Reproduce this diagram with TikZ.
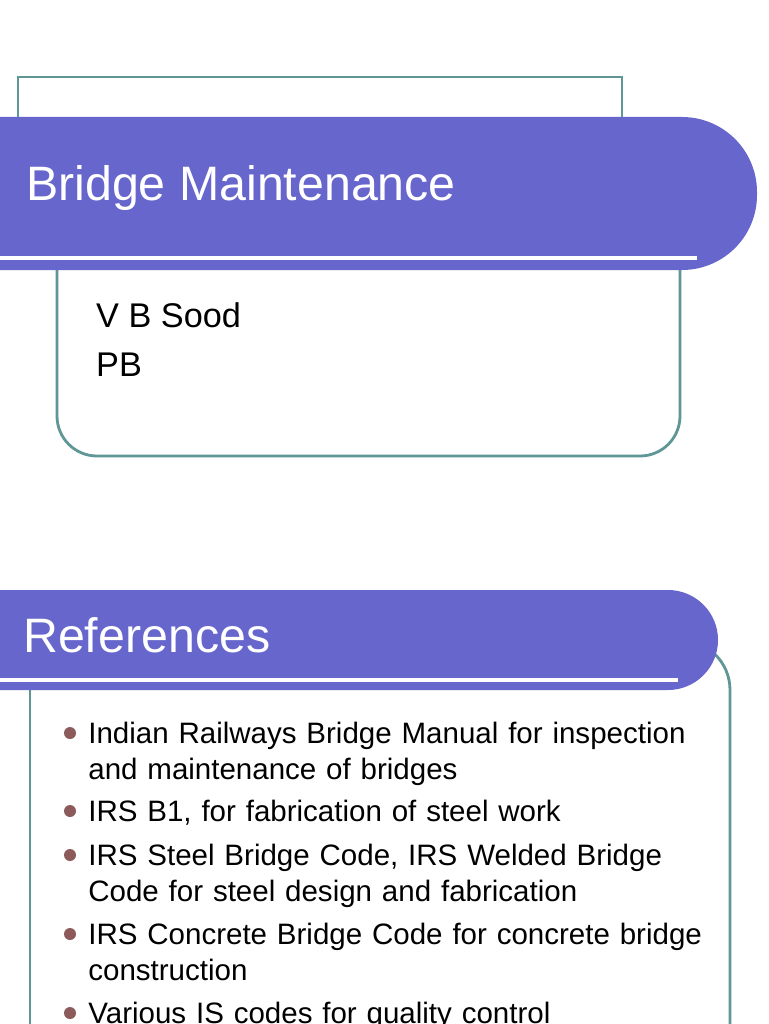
\documentclass[tikz,border=0pt]{standalone}
\usepackage{fontspec}
\setmainfont{Liberation Sans}
\definecolor{bar_c}{RGB}{102,102,204}
\definecolor{frame_c}{RGB}{96,150,150}
\definecolor{dot_c}{RGB}{140,90,90}
\begin{document}
\begin{tikzpicture}[
			x=0.02cm, y=-0.02cm,
			frame/.style = {draw=frame_c, line width=1.6pt},
			bar/.style = {fill=bar_c},
			title/.style = {anchor=west, text=white, font=\fontsize{27.5}{32}\selectfont},
			body/.style = {anchor=west, font=\fontsize{19.5}{23}\selectfont},
			item/.style = {anchor=north west, font=\fontsize{16.8}{20.4}\selectfont, text width=12.5cm, align=left, inner sep=0pt},
			]
			\useasboundingbox (0,0) rectangle (768,1024);
			% first slide
			\draw[frame] (18,117) -- (18,77) -- (622,77) -- (622,117);
			\draw[frame, rounded corners=0.8cm] (57,260) -- (57,456) -- (680,456) -- (680,260);
			\fill[bar, rounded corners=1.5cm] (-200,117) -- (757,117) -- (757,270) -- (-200,270) -- cycle;
			\draw[white, line width=2pt] (0,258) -- (697,258);
			\node[title] (t1) at (20,188) {Bridge Maintenance};
			\node[body] (n1) at (90,315) {V B Sood};
			\node[body] (n2) at (90,365) {PB};
			% second slide
			\draw[frame, rounded corners=1cm] (680,640) -- (730,640) -- (730,1024);
			\draw[frame] (30,690) -- (30,1024);
			\fill[bar, rounded corners=1cm] (-200,590) -- (718,590) -- (718,690) -- (-200,690) -- cycle;
			\draw[white, line width=2pt] (0,680) -- (678,680);
			\node[title] (t2) at (17,635) {References};
			% bullets
			\foreach \y/\txt in {
				733/{Indian Railways Bridge Manual for inspection and maintenance of bridges},
				811/{IRS B1, for fabrication of steel work},
				855/{IRS Steel Bridge Code, IRS Welded Bridge Code for steel design and fabrication},
				934/{IRS Concrete Bridge Code for concrete bridge construction},
				1013/{Various IS codes for quality control}}
			{
				\node[item] (b\y) at (88,\y-11) {\txt};
				\fill[dot_c] (70,\y) circle (6);
			}
		\end{tikzpicture}
\end{document}
